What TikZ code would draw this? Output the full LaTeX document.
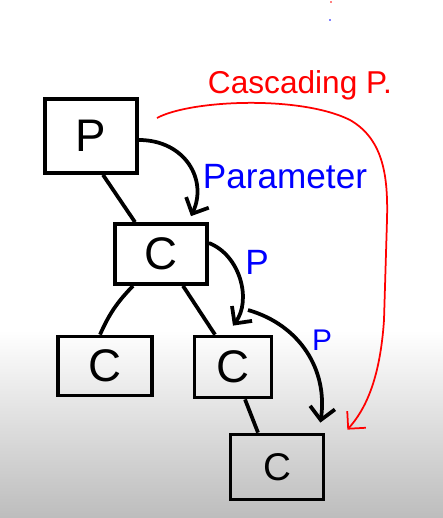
\documentclass[tikz,border=0pt]{standalone}
\usepackage{fontspec}
\setmainfont{Liberation Sans}
\usetikzlibrary{arrows.meta}
\tikzset{
  box/.style={draw, line width=0.75mm, inner sep=0pt, font=\fontsize{26}{26}\selectfont},
  link/.style={line width=0.75mm},
  pass/.style={line width=0.75mm, -{Straight Barb[length=2.5mm,width=5mm]}},
  cascade/.style={red, line width=0.35mm, -{Straight Barb[length=2.5mm,width=5mm]}},
  note/.style={blue, font=\fontsize{20}{20}\selectfont},
  cascnote/.style={red, font=\fontsize{18}{18}\selectfont}
}

\begin{document}
\begin{tikzpicture}[x=0.02cm,y=-0.02cm]
	%%%%% START %%%%%
	
	\fill[white] (0,0) rectangle (443,518);
	\shade[top color=white, bottom color=black!26] (0,330) rectangle (443,518);
	\useasboundingbox (0,0) rectangle (443,518);
	
	\node[box, minimum width=1.84cm, minimum height=1.48cm] (P) at (91,136) {P};
	\node[box, minimum width=1.84cm, minimum height=1.2cm] (C1) at (161,254) {C};
	\node[box, minimum width=1.88cm, minimum height=1.18cm] (C2) at (105,366) {C};
	\node[box, minimum width=1.54cm, minimum height=1.22cm] (C3) at (233,367) {C};
	\node[box, minimum width=1.86cm, minimum height=1.3cm, font=\fontsize{22}{22}\selectfont] (C4) at (277,467) {C};
	
	% tree
	\draw[link] ([xshift=0.24cm]P.south) -- ([xshift=-0.52cm]C1.north);
	\draw[link] ([xshift=-0.56cm]C1.south) to[bend right=10] ([xshift=-0.1cm]C2.north);
	\draw[link] ([xshift=0.44cm]C1.south) -- ([xshift=-0.36cm]C3.north);
	\draw[link] ([xshift=0.24cm]C3.south) -- ([xshift=-0.38cm]C4.north);
	
	% parameters handed down
	\coordinate (p3) at (248,310);
	\draw[pass] ([yshift=-0.08cm]P.east) .. controls (185,140) and (208,180) .. ([shift={(0.6cm,0.12cm)}]C1.north);
	\draw[pass] ([yshift=0.22cm]C1.east) .. controls (240,255) and (252,300) .. ([yshift=0.18cm]C3.north);
	\draw[pass] (p3) .. controls (300,325) and (328,370) .. ([shift={(-0.1cm,0.2cm)}]C4.north east);
	
	\node[note] (lparam) at (285,177) {Parameter};
	\node[note] (lp1) at (257,262) {P};
	\node[note, font=\fontsize{17}{17}\selectfont] (lp2) at (322,340) {P};
	
	% cascading
	\coordinate (r0) at (157,118);
	\draw[cascade] (r0) .. controls (190,100) and (300,95) .. (350,120) .. controls (385,140) and (388,180) .. (387,220) -- (384,320) .. controls (380,380) and (365,410) .. ([shift={(0.44cm,0.06cm)}]C4.north east);
	\node[cascnote] (lcasc) at (300,85) {Cascading P.};
	
	\fill[blue] (330,20) circle (0.5pt);
	\fill[red] (331,2) circle (0.5pt);
	
	%%%%% END %%%%%
\end{tikzpicture}
\end{document}
